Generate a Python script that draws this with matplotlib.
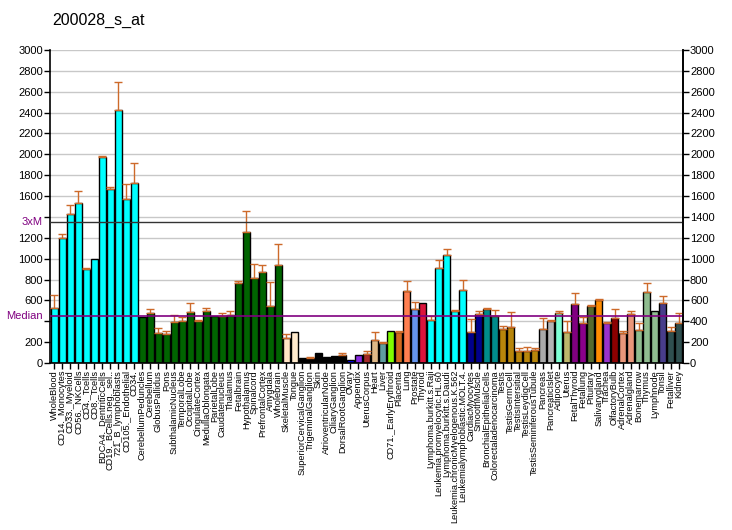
import matplotlib
matplotlib.use("Agg")
import matplotlib.pyplot as plt
import numpy as np

plt.rcParams['font.family'] = ['Liberation Sans', 'DejaVu Sans']

title = "200028_s_at"
labels = ["WholeBlood","CD14._Monocytes","CD33._Myeloid","CD56._NKCells","CD4._Tcells","CD8._Tcells",
 "BDCA4._DentriticCells","CD19._BCells.neg._sel..","721_B_lymphoblasts","CD105._Endothelial","CD34.",
 "CerebellumPeduncles","Cerebellum","GlobusPallidus","Pons","SubthalamicNucleus","TemporalLobe",
 "OccipitalLobe","CingulateCortex","MedullaOblongata","ParietalLobe","Caudatenucleus","Thalamus",
 "Fetalbrain","Hypothalamus","Spinalcord","PrefrontalCortex","Amygdala","Wholebrain",
 "SkeletalMuscle","Tongue","SuperiorCervicalGanglion","TrigeminalGanglion","Skin",
 "AtrioventricularNode","CiliaryGanglion","DorsalRootGanglion","Ovary","Appendix","UterusCorpus",
 "Heart","Liver","CD71._EarlyErythroid","Placenta","Lung","Prostate","Thyroid",
 "Lymphoma.burkitt.s.Raji","Leukemia.promyelocytic.HL.60","Lymphoma.burkitt.s.Daudi",
 "Leukemia.chronicMyelogenous.K.562","Leukemialymphoblastic.MOLT.4.","CardiacMyocytes","SmoothMuscle",
 "BronchialEpithelialCells","Colorectaladenocarcinoma","Testis","TestisGermCell","TestisIntersitial",
 "TestisLeydigCell","TestisSeminiferousTubule","Pancreas","PancreaticIslet","Adipocyte","Uterus",
 "FetalThyroid","Fetallung","Pituitary","Salivarygland","Trachea","OlfactoryBulb","AdrenalCortex",
 "Adrenalgland","Bonemarrow","Thymus","Lymphnode","Tonsil","Fetalliver","Kidney"]

values = [527,1198,1428,1534,901,997,1974,1668,2425,1575,1725,
          441,479,288,278,393,406,489,406,498,447,447,460,
          767,1252,811,869,543,936,
          236,294,48,48,93,58,67,77,26,73,83,
          217,188,303,294,687,514,572,
          409,907,1032,495,696,294,466,
          514,454,323,342,112,112,121,323,399,476,294,
          562,380,543,601,380,428,284,466,313,677,495,572,303,380]

err_top = [649,1236,1514,1649,910,997,1981,1687,2690,1716,1917,
           441,518,335,307,457,438,575,415,527,447,479,498,
           786,1460,946,936,773,1137,
           275,294,48,58,93,58,67,93,26,73,112,
           294,198,303,303,783,581,572,
           454,984,1089,505,799,419,495,
           524,505,351,486,141,150,141,428,409,495,399,
           668,438,553,610,390,514,303,495,380,764,495,639,342,476]

colors = (["#00FFFF"]*11 + ["#006400"]*18 + ["#FFE4C4","#FFEBCD"] + ["#000000"]*6 +
          ["#0000FF","#8A2BE2","#A52A2A","#DEB887","#5F9EA0","#7FFF00","#D2691E","#FF7F50",
           "#6495ED","#DC143C"] + ["#00FFFF"]*5 + ["#00008B","#00008B","#008B8B","#008B8B"] +
          ["#B8860B"]*5 + ["#A9A9A9","#B4B4B4","#7FFFD4","#BDB76B","#800080","#8B008B",
           "#556B2F","#FF8C00","#9932CC","#8B0000","#E9967A","#E9967A","#8FBC8F","#8FBC8F",
           "#8FBC8F","#483D8B","#2F4F4F","#2F4F4F"])

median = 452
yticks = list(range(0, 3001, 200))

fig = plt.figure(figsize=(7.32, 5.30), dpi=100)
ax = fig.add_axes([50/732, 1-363/530, 633/732, 313/530])
x = np.arange(len(values))
ax.set_axisbelow(True)
for t in yticks:
    ax.axhline(t, color="#C8C8C8", lw=1, zorder=0)
ax.bar(x, values, width=0.8, color=colors, edgecolor="black", linewidth=1, zorder=2)
up = np.array(err_top) - np.array(values)
mask = up > 2
ax.errorbar(x[mask], np.array(values)[mask], yerr=[np.zeros(mask.sum()), up[mask]],
            fmt="none", ecolor="#CD6A2A", elinewidth=1, capsize=3, capthick=1, zorder=3)
ax.axhline(median, color="#800080", lw=1.2, zorder=4)
ax.axhline(3*median, color="#333333", lw=1, zorder=4)

ax.set_xlim(-0.55, len(values)-0.45)
ax.set_ylim(0, 3000)
ax.set_xticks(x)
ax.set_xticklabels(labels, rotation=90, fontsize=6.6)
ax.set_yticks(yticks)
ax.set_yticklabels([("" if t in (400, 1400) else str(t)) for t in yticks], fontsize=8)
ax.tick_params(axis="both", length=4, width=1, pad=1)
ax.tick_params(axis="y", right=False, labelright=False)
ax.spines["top"].set_visible(False)
for s in ["left", "right", "bottom"]:
    ax.spines[s].set_linewidth(1.2)
ax.text(-0.012, median, "Median", transform=ax.get_yaxis_transform(), ha="right", va="center",
        color="#800080", fontsize=8)
ax.text(-0.012, 3*median, "3xM", transform=ax.get_yaxis_transform(), ha="right", va="center",
        color="#800080", fontsize=8)

ax2 = ax.twinx()
ax2.set_ylim(0, 3000)
ax2.set_yticks(yticks)
ax2.set_yticklabels([str(t) for t in yticks], fontsize=8)
ax2.tick_params(axis="y", length=4, width=1, pad=1)
for s in ["top", "left", "bottom"]:
    ax2.spines[s].set_visible(False)
ax2.spines["right"].set_linewidth(1.2)

fig.text(52/732, 1-20/530, title, fontsize=11.5, ha="left", va="center")
fig.savefig("out.png", dpi=100)
